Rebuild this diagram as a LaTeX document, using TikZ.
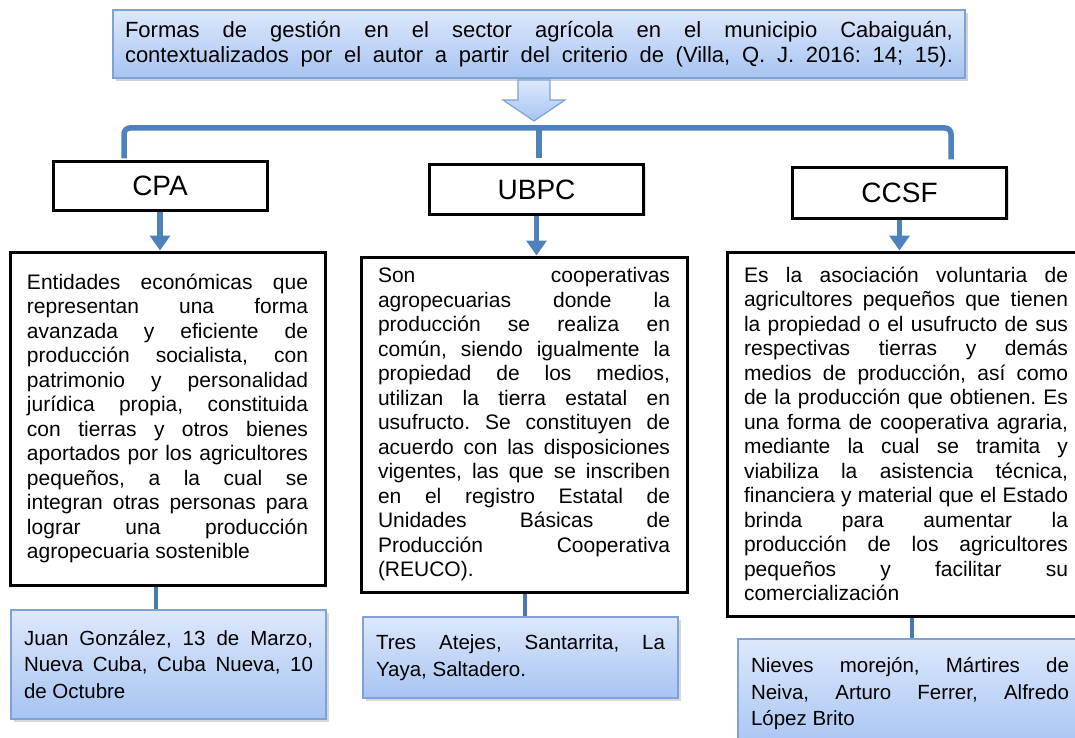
\documentclass[tikz,border=0pt]{standalone}
\usepackage{fontspec}
\setmainfont{Liberation Sans}
\usepackage{tikz}
\usetikzlibrary{arrows.meta,shadows}

\definecolor{linkblue}{HTML}{4F81BD}
\definecolor{linkdark}{HTML}{4A78B0}
\definecolor{paletop}{HTML}{DDE8FB}
\definecolor{palebot}{HTML}{A7C4F3}
\definecolor{paleline}{HTML}{7EA2D6}
\frenchspacing
\tolerance=10000 \hbadness=10000 \hyphenpenalty=10000 \exhyphenpenalty=10000

\begin{document}
\begin{tikzpicture}[x=1pt, y=-1pt, >={Triangle[width=20pt,length=15pt]},
    titlebox/.style={draw=paleline, line width=1.5pt, top color=paletop, bottom color=palebot,
        drop shadow={shadow xshift=3pt, shadow yshift=-3pt, opacity=0.35},
        align=justify, inner xsep=12pt, font=\fontsize{22}{25}\selectfont},
    headbox/.style={draw, line width=3pt, fill=white, minimum width=214pt,
        drop shadow={shadow xshift=2pt, shadow yshift=-2pt, opacity=0.25},
        font=\fontsize{28}{32}\selectfont},
    textbox/.style={draw, line width=3pt, fill=white, align=justify, inner xsep=17pt,
        drop shadow={shadow xshift=2pt, shadow yshift=-2pt, opacity=0.25},
        font=\fontsize{21}{24.5}\selectfont},
    placebox/.style={draw=paleline, line width=1.2pt, top color=paletop, bottom color=palebot,
        drop shadow={shadow xshift=3pt, shadow yshift=-3pt, opacity=0.3},
        align=justify, inner xsep=13pt, text width=289pt, font=\fontsize{20.5}{26.5}\selectfont},
    bracket/.style={draw=linkblue, line width=5.5pt, rounded corners=6pt},
    arrowline/.style={draw=linkblue, line width=5.5pt},
    link/.style={draw=linkdark, line width=4.5pt},
    blockarrow/.style={draw=paleline, line width=1.2pt, top color=paletop, bottom color=palebot}]
    \useasboundingbox[fill=white] (0, 0) rectangle (1075, 738);

    \node[titlebox, text width=828pt, minimum height=68pt] at (539, 44) (title) {
        Formas de gestión en el sector agrícola en el municipio Cabaiguán,\linebreak
        contextualizados por el autor a partir del criterio de (Villa, Q. J. 2016: 14; 15).\parfillskip=0pt\par};
    \draw[blockarrow] (518, 80) -- (550, 80) -- (550, 100) -- (565, 100) -- (534, 121)
        -- (503, 100) -- (518, 100) -- cycle;
    \coordinate (hub) at (539, 128);

    \node[headbox, minimum height=48pt] at (160, 186) (cpa) {CPA};
    \node[headbox, minimum height=49pt] at (536.5, 189.5) (ubpc) {UBPC};
    \node[headbox, minimum height=50pt] at (899.5, 193) (ccsf) {CCSF};

    \node[textbox, text width=281pt, minimum height=333pt] at (167.5, 418.5) (cpatxt) {
        Entidades económicas que\linebreak
        representan una forma\linebreak
        avanzada y eficiente de\linebreak
        producción socialista, con\linebreak
        patrimonio y personalidad\linebreak
        jurídica propia, constituida\linebreak
        con tierras y otros bienes\linebreak
        aportados por los agricultores\linebreak
        pequeños, a la cual se\linebreak
        integran otras personas para\linebreak
        lograr una producción\linebreak
        agropecuaria sostenible};
    \node[textbox, text width=292pt, minimum height=335pt] at (524, 424.5) (ubpctxt) {
        Son cooperativas\linebreak
        agropecuarias donde la\linebreak
        producción se realiza en\linebreak
        común, siendo igualmente la\linebreak
        propiedad de los medios,\linebreak
        utilizan la tierra estatal en\linebreak
        usufructo. Se constituyen de\linebreak
        acuerdo con las disposiciones\linebreak
        vigentes, las que se inscriben\linebreak
        en el registro Estatal de\linebreak
        Unidades Básicas de\linebreak
        Producción Cooperativa\linebreak
        (REUCO).};
    \node[textbox, text width=324pt, minimum height=364pt] at (906, 434) (ccsftxt) {
        Es la asociación voluntaria de\linebreak
        agricultores pequeños que tienen\linebreak
        la propiedad o el usufructo de sus\linebreak
        respectivas tierras y demás\linebreak
        medios de producción, así como\linebreak
        de la producción que obtienen. Es\linebreak
        una forma de cooperativa agraria,\linebreak
        mediante la cual se tramita y\linebreak
        viabiliza la asistencia técnica,\linebreak
        financiera y material que el Estado\linebreak
        brinda para aumentar la\linebreak
        producción de los agricultores\linebreak
        pequeños y facilitar su\linebreak
        comercialización};

    \node[placebox, minimum height=109pt] at (168.5, 664.5) (cpabot) {
        Juan González, 13 de Marzo,\linebreak
        Nueva Cuba, Cuba Nueva, 10\linebreak
        de Octubre\par\vspace{16pt}};
    \node[placebox, minimum height=81pt] at (520.5, 657.5) (ubpcbot) {
        Tres Atejes, Santarrita, La\linebreak
        Yaya, Saltadero.\par\vspace{13pt}};
    \node[placebox, text width=318pt, minimum height=110pt] at (910, 694) (ccsfbot) {
        Nieves morejón, Mártires de\linebreak
        Neiva, Arturo Ferrer, Alfredo\linebreak
        López Brito\par\vspace{19pt}};

    \draw[bracket, shorten >=2pt] (hub) -| ([xshift=-36pt]cpa.north);
    \draw[bracket, shorten >=5pt] (hub) -- ([xshift=2.5pt]ubpc.north);
    \draw[bracket, shorten >=7pt] (hub) -| ([xshift=51.5pt]ccsf.north);

    \draw[->, arrowline] (cpa.south) -- (cpa.south |- cpatxt.north);
    \draw[->, arrowline] (ubpc.south) -- (ubpc.south |- ubpctxt.north);
    \draw[->, arrowline] (ccsf.south) -- (ccsf.south |- ccsftxt.north);

    \draw[link] ([xshift=-11.5pt]cpatxt.south) -- ([xshift=-12.5pt]cpabot.north);
    \draw[link] ([xshift=1pt]ubpctxt.south) -- ([xshift=4.5pt]ubpcbot.north);
    \draw[link] ([xshift=6pt]ccsftxt.south) -- ([xshift=2pt]ccsfbot.north);
\end{tikzpicture}
\end{document}
